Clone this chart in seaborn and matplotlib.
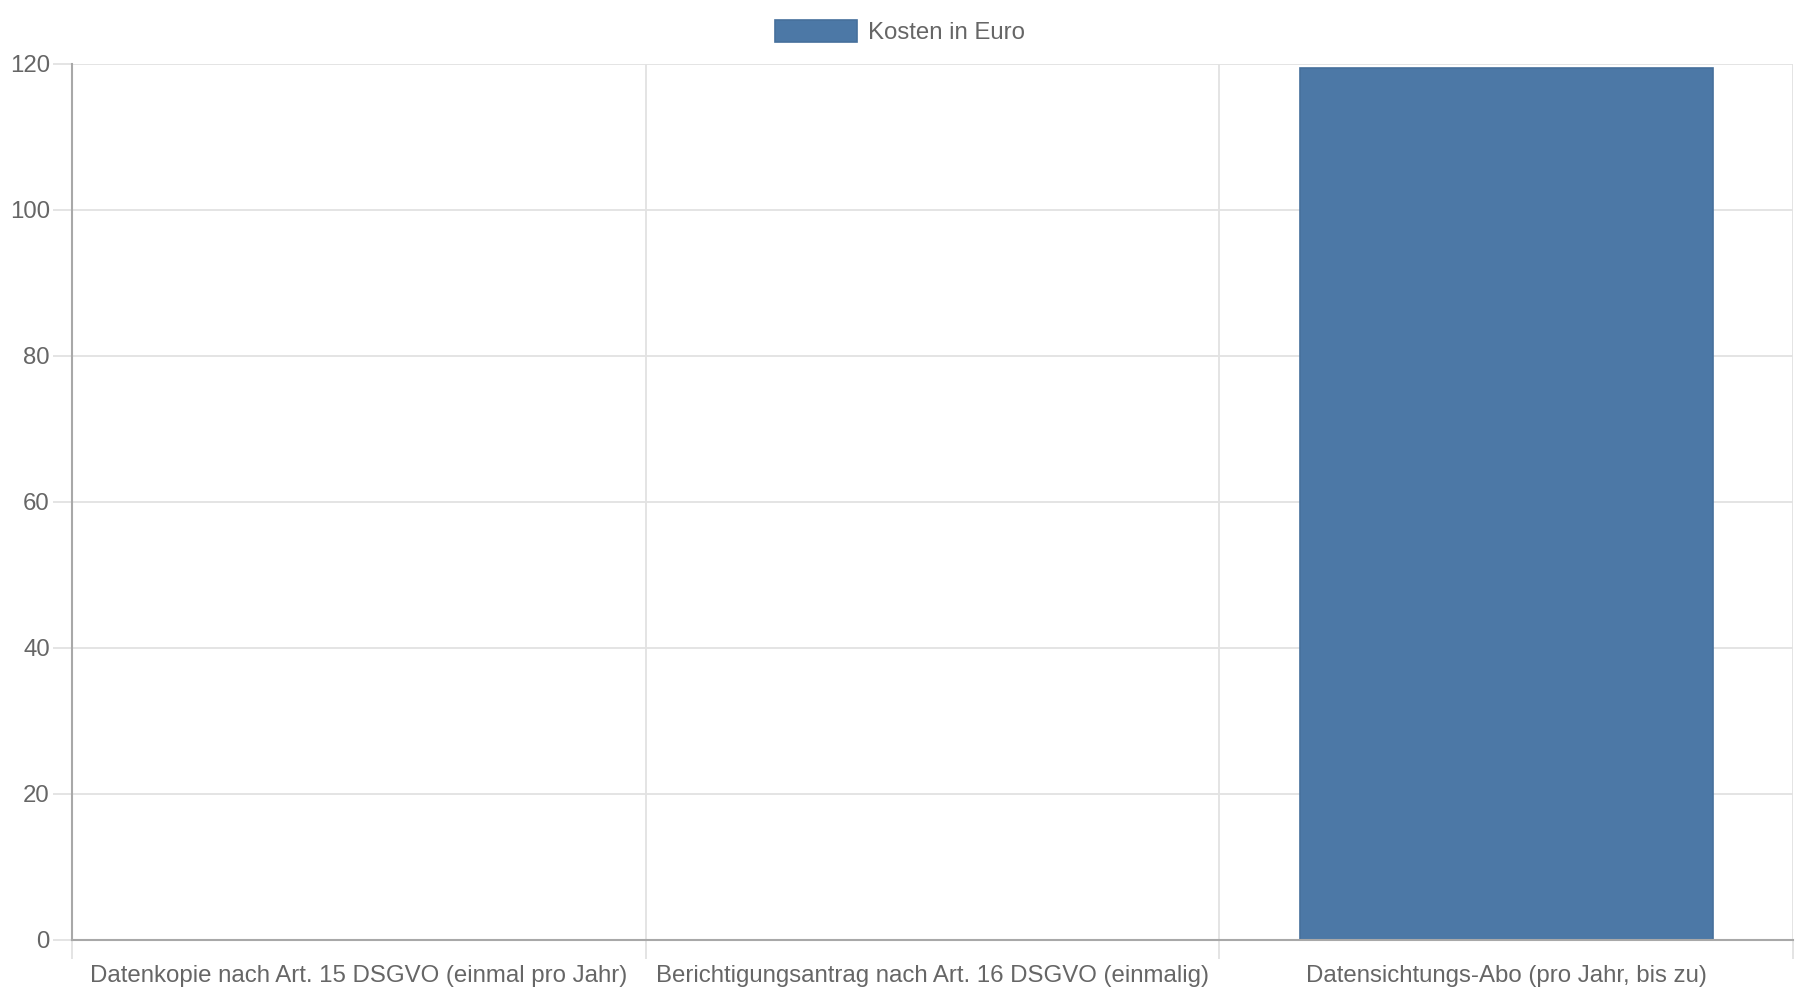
import pandas as pd
import seaborn as sns
import matplotlib.pyplot as plt
import matplotlib.ticker as ticker

# dados
categorias = ['Datenkopie nach Art. 15 DSGVO (einmal pro Jahr)',
              'Berichtigungsantrag nach Art. 16 DSGVO (einmalig)',
              'Datensichtungs-Abo (pro Jahr, bis zu)']
kosten = [0, 0, 119.4]
serie = 'Kosten in Euro'
y_ticks = [0, 20, 40, 60, 80, 100, 120]

df = pd.DataFrame({'kategorie': categorias, 'kosten': kosten})

sns.set_style('white')
plt.rcParams['font.family'] = ['Liberation Sans', 'DejaVu Sans']

cor_barra = '#4c78a6'
cor_texto = '#666666'
cor_grade = '#e2e2e2'
cor_eixo = '#a8a8a8'
fs = 17.3

fig = plt.figure(figsize=(18, 10), dpi=100)
ax = fig.add_axes([0.04, 0.06, 0.9561, 0.876])

sns.barplot(data=df, x='kategorie', y='kosten', color=cor_barra, width=0.72,
            edgecolor='#46709c', linewidth=1.2, saturation=1, ax=ax, label=serie)

ax.set_xlim(-0.5, 2.5)
ax.set_ylim(0, 120)
ax.set(xlabel='', ylabel='')

# grade
ax.yaxis.set_major_locator(ticker.FixedLocator(y_ticks))
ax.xaxis.set_minor_locator(ticker.FixedLocator([-0.5, 0.5, 1.5, 2.5]))
ax.grid(axis='y', which='major', color=cor_grade, linewidth=1.3)
ax.grid(axis='x', which='minor', color=cor_grade, linewidth=1.3)
ax.set_axisbelow(True)

for lado in ['top', 'right']:
    ax.spines[lado].set_visible(False)
for lado in ['left', 'bottom']:
    ax.spines[lado].set_color(cor_eixo)
    ax.spines[lado].set_linewidth(1.5)

ax.tick_params(axis='x', which='both', bottom=True)
ax.tick_params(axis='y', which='both', left=True)
ax.tick_params(axis='x', which='major', length=0, pad=18, labelsize=fs, labelcolor=cor_texto)
ax.tick_params(axis='x', which='minor', length=14, width=1.3, color=cor_grade)
ax.tick_params(axis='y', length=14, width=1.3, color=cor_grade, pad=2,
               labelsize=fs, labelcolor=cor_texto)
ax.xaxis.get_minor_ticks()[0].tick1line.set_color(cor_eixo)
ax.yaxis.get_major_ticks()[0].tick1line.set_color(cor_eixo)

# legenda
if ax.legend_:
    ax.legend_.remove()
handles, labels = ax.get_legend_handles_labels()
fig.legend(handles[:1], [serie], loc='center', bbox_to_anchor=(0.5, 0.968),
           frameon=False, fontsize=fs, labelcolor=cor_texto,
           handlelength=3.4, handleheight=1.0, handletextpad=0.46)

plt.savefig('out.png', dpi=100)
